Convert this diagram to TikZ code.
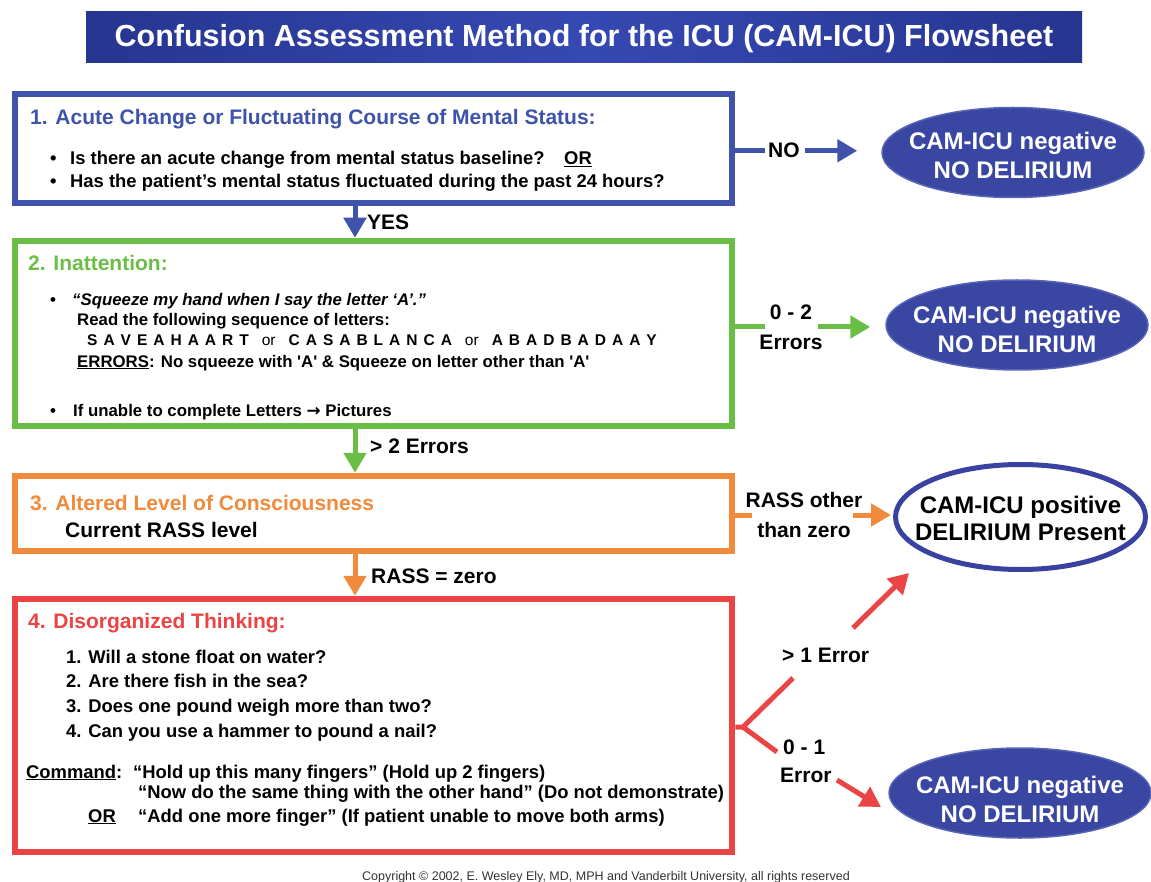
\documentclass[tikz,border=0pt]{standalone}
\usepackage{fontspec}
\setmainfont{Liberation Sans}
\newfontfamily\arrowfont{DejaVu Sans}
\usetikzlibrary{arrows.meta,shapes.geometric,calc}
\definecolor{cBlue}{HTML}{3F53AA}
\definecolor{cGreen}{HTML}{6BBE45}
\definecolor{cOrange}{HTML}{F18A3B}
\definecolor{cRed}{HTML}{EA4444}
\definecolor{barDark}{HTML}{26358F}
\definecolor{barMid}{HTML}{3649B2}
\definecolor{ellFill}{HTML}{3A47A2}
\definecolor{ellRim}{HTML}{5864B6}
\definecolor{ellLine}{HTML}{3942A0}
\newcommand\lsp{\hspace{6pt}}
\newcommand\orsep{\hspace{13pt}{\mdseries or}\hspace{13pt}}
\begin{document}
\begin{tikzpicture}[x=1pt,y=-1pt,
  box/.style={rectangle, draw, line width=6.5pt, minimum width=717pt, inner sep=0pt},
  txt/.style={anchor=base west, inner sep=0pt, font=\fontsize{18.4}{22}\selectfont\bfseries},
  txtb/.style={anchor=base west, inner sep=0pt, font=\fontsize{16.8}{20}\selectfont\bfseries},
  head/.style={anchor=base west, inner sep=0pt, font=\fontsize{21}{25}\selectfont\bfseries},
  lab/.style={inner sep=0pt, font=\fontsize{21}{25}\selectfont\bfseries},
  conn/.style={line width=5pt},
  arr/.style={line width=5pt, -{Triangle[length=20pt,width=22pt]}},
  negell/.style={ellipse, minimum width=262pt, minimum height=90pt, inner sep=0pt, fill=ellFill, draw=ellRim, line width=1.5pt},
  elltext/.style={align=center, inner sep=0pt, font=\fontsize{24}{29}\selectfont\bfseries, text=white},
]
\fill[white] (0,0) rectangle (1151,882);
\useasboundingbox (0,0) rectangle (1151,882);

% title bar
\node[rectangle, minimum width=996pt, minimum height=51pt, inner sep=0pt,
      left color=barDark, right color=barDark, middle color=barMid] (bar) at (584,37.5) {};
\node[font=\fontsize{30.5}{34}\selectfont\bfseries, text=white, anchor=base, inner sep=0pt] (title) at (584,47)
  {Confusion Assessment Method for the ICU (CAM-ICU) Flowsheet};

% boxes
\node[box, draw=cBlue,   minimum height=109pt] (b1) at (373.5,148.5) {};
\node[box, draw=cGreen,  minimum height=185pt] (b2) at (373.5,333.5) {};
\node[box, draw=cOrange, minimum height=75pt]  (b3) at (373.5,513.5) {};
\node[box, draw=cRed,    minimum height=253pt] (b4) at (373.5,725.5) {};

% ellipses
\node[negell] (e1) at (1013,152.5) {};
\node[negell] (e2) at (1017,325) {};
\node[ellipse, draw=ellLine, line width=5pt, fill=white, minimum width=250pt, minimum height=105pt, inner sep=0pt] (e3) at (1020.5,517) {};
\node[negell] (e4) at (1020,793) {};
\node[elltext] (e1t) at (1013,155) {CAM-ICU negative\\NO DELIRIUM};
\node[elltext] (e2t) at (1017,329) {CAM-ICU negative\\NO DELIRIUM};
\node[elltext, text=black, font=\fontsize{24}{27}\selectfont\bfseries] (e3t) at (1020.5,518.5) {CAM-ICU positive\\DELIRIUM Present};
\node[elltext] (e4t) at (1020,799) {CAM-ICU negative\\NO DELIRIUM};

% box 1 text
\node[head, text=cBlue] (h1) at (30,125) {1. Acute Change or Fluctuating Course of Mental Status:};
\node[txt] (b1d1) at (50,165) {•};
\node[txt] (b1l1) at (70,165) {Is there an acute change from mental status baseline?};
\node[txt] (b1or) at (564,165) {\underline{OR}};
\node[txt] (b1d2) at (50,188) {•};
\node[txt] (b1l2) at (70,188) {Has the patient’s mental status fluctuated during the past 24 hours?};

% box 2 text
\node[head, text=cGreen] (h2) at (28,271) {2. Inattention:};
\node[txtb] (b2d1) at (50,306) {•};
\node[txtb] (s1) at (72,306) {\itshape “Squeeze my hand when I say the letter ‘A’.”};
\node[txtb] (s2) at (77,326) {Read the following sequence of letters:};
\node[txtb, font=\fontsize{15.5}{18}\selectfont\bfseries] (s3) at (87,346)
  {S\lsp A\lsp V\lsp E\lsp A\lsp H\lsp A\lsp A\lsp R\lsp T\orsep C\lsp A\lsp S\lsp A\lsp B\lsp L\lsp A\lsp N\lsp C\lsp A\orsep A\lsp B\lsp A\lsp D\lsp B\lsp A\lsp D\lsp A\lsp A\lsp Y};
\node[txtb] (s4) at (77,367) {\underline{ERRORS}: No squeeze with \textquotesingle A\textquotesingle{} \& Squeeze on letter other than \textquotesingle A\textquotesingle};
\node[txtb] (b2d2) at (50,416) {•};
\node[txtb] (s5) at (73,416) {If unable to complete Letters {\arrowfont\bfseries →} Pictures};

% box 3 text
\node[head, text=cOrange] (h3) at (30,510) {3. Altered Level of Consciousness};
\node[head] (c3) at (65,537) {Current RASS level};

% box 4 text
\node[head, text=cRed] (h4) at (28,628) {4. Disorganized Thinking:};
\node[txt] (q1) at (66,663) {1. Will a stone float on water?};
\node[txt] (q2) at (66,687) {2. Are there fish in the sea?};
\node[txt] (q3) at (66,712) {3. Does one pound weigh more than two?};
\node[txt] (q4) at (66,737) {4. Can you use a hammer to pound a nail?};
\node[txt] (cm) at (26,778) {\underline{Command}:};
\node[txt] (cm1) at (133,778) {“Hold up this many fingers” (Hold up 2 fingers)};
\node[txt] (cm2) at (138,798) {“Now do the same thing with the other hand” (Do not demonstrate)};
\node[txt] (cor) at (88,822) {\underline{OR}};
\node[txt] (cm3) at (138,822) {“Add one more finger” (If patient unable to move both arms)};

% labels
\node[lab, anchor=base west] (no) at (768,158) {NO};
\node[lab, anchor=base west] (yes) at (367,230) {YES};
\node[lab, anchor=base] (l2a) at (791,320) {0 - 2};
\node[lab, anchor=base] (l2b) at (791,350) {Errors};
\node[lab, anchor=base west] (l23) at (370,453) {> 2 Errors};
\node[lab, anchor=base] (l3a) at (804,507) {RASS other};
\node[lab, anchor=base] (l3b) at (804,537) {than zero};
\node[lab, anchor=base west] (l34) at (371,583) {RASS = zero};
\node[lab, anchor=base west] (l4a) at (782,662) {> 1 Error};
\node[lab, anchor=base west] (l4b) at (783,754) {0 - 1};
\node[lab, anchor=base west] (l4c) at (780,782) {Error};

% connectors
\coordinate (ax) at (355,0);
\draw[arr, cBlue]   (b1.south -| ax) -- (b2.north -| ax);
\draw[arr, cGreen]  (b2.south -| ax) -- (b3.north -| ax);
\draw[arr, cOrange] (b3.south -| ax) -- (b4.north -| ax);

\draw[conn, cBlue] (b1.east |- no.west) -- ([xshift=-3pt]no.west);
\draw[arr, cBlue, shorten >=24pt] ([xshift=5pt]no.east) -- (e1.west |- no.east);

\coordinate (g1) at (765,327);
\coordinate (g2) at (818,327);
\draw[conn, cGreen] (b2.east |- g1) -- (g1);
\draw[arr, cGreen, shorten >=15pt] (g2) -- (e2.west |- g2);

\coordinate (o1) at (752,515);
\coordinate (o2) at (853,515);
\draw[conn, cOrange] (b3.east |- o1) -- (o1);
\draw[arr, cOrange, shorten >=2pt] (o2) -- (e3.west |- o2);

\coordinate (f) at (743,727);
\coordinate (fu) at (793,678);
\coordinate (fd) at (777,752);
\coordinate (ru1) at (853,628);
\coordinate (ru2) at (909,573);
\coordinate (rd1) at (837,780);
\coordinate (rd2) at (881,807);
\draw[conn, cRed, line join=round] (b4.east |- f) -- (f) -- (fu);
\draw[conn, cRed] (f) -- (fd);
\draw[arr, cRed] (ru1) -- (ru2);
\draw[arr, cRed] (rd1) -- (rd2);

% copyright
\node[font=\fontsize{12.5}{14}\selectfont, text=black!80, anchor=base, inner sep=0pt] (copy) at (606,880)
  {Copyright © 2002, E. Wesley Ely, MD, MPH and Vanderbilt University, all rights reserved};
\end{tikzpicture}
\end{document}
